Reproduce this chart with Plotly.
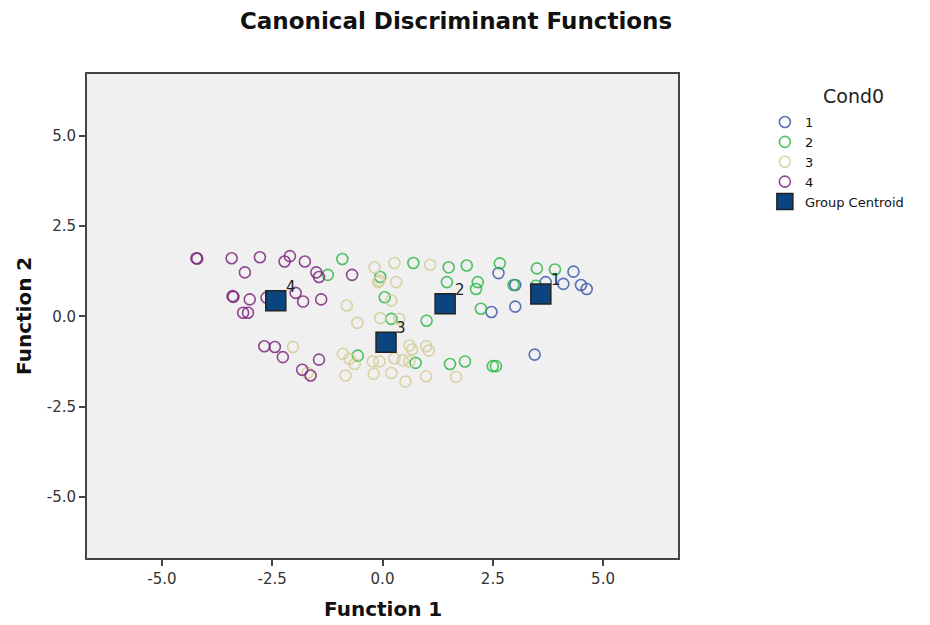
import plotly.graph_objects as go

# ---- data ----
g1_x = [2.63, 3.01, 3.01, 2.47, 3.70, 4.10, 4.33, 4.50, 4.63, 3.45]
g1_y = [1.20, 0.87, 0.27, 0.12, 0.95, 0.90, 1.24, 0.87, 0.76, -1.06]

g2_x = [-0.91, -1.24, -0.05, 0.70, 1.50, 1.91, 2.66, 1.46, 2.16, 2.12, 0.05, 2.23,
        1.00, 0.20, -0.56, 0.75, 1.53, 1.87, 2.50, 2.57, 2.97, 3.50, 3.91, 3.48]
g2_y = [1.59, 1.15, 1.09, 1.48, 1.36, 1.41, 1.47, 0.95, 0.95, 0.76, 0.53, 0.21,
        -0.12, -0.07, -1.09, -1.29, -1.32, -1.25, -1.38, -1.38, 0.87, 1.33, 1.30, 0.85]

g3_x = [-2.03, -0.18, 0.27, 1.08, -0.07, -0.10, 0.31, 0.20, -0.81, -0.57, -0.05, 0.38,
        -0.90, -0.75, -0.63, -0.22, -0.07, 0.27, 0.46, 0.61, 0.61, 0.67, 0.99, 1.05,
        -0.84, -0.20, 0.20, 0.52, 0.99, 1.67, -1.70]
g3_y = [-0.85, 1.36, 1.48, 1.43, 0.99, 0.95, 0.95, 0.44, 0.30, -0.18, -0.05, -0.07,
        -1.04, -1.18, -1.32, -1.25, -1.25, -1.16, -1.22, -1.25, -0.81, -0.92, -0.83, -0.95,
        -1.64, -1.59, -1.57, -1.81, -1.66, -1.68, -1.57]

g4_x = [-4.22, -4.20, -3.42, -2.78, -2.22, -2.10, -1.76, -3.12, -1.50, -1.44, -0.69,
        -3.40, -3.38, -3.01, -2.63, -1.97, -1.80, -1.39, -3.16, -3.05, -2.68, -2.44,
        -2.26, -1.44, -1.82, -1.63]
g4_y = [1.61, 1.60, 1.61, 1.64, 1.52, 1.67, 1.52, 1.22, 1.22, 1.09, 1.15,
        0.56, 0.54, 0.47, 0.52, 0.65, 0.41, 0.47, 0.10, 0.10, -0.83, -0.85,
        -1.13, -1.20, -1.48, -1.64]

centroid_labels = ["1", "2", "3", "4"]
centroid_x = [3.59, 1.42, 0.08, -2.42]
centroid_y = [0.62, 0.35, -0.72, 0.43]

group_names = ["1", "2", "3", "4"]
group_colors = ["#3E58AC", "#2EB848", "#D3CE97", "#7C287D"]
tick_vals = [-5.0, -2.5, 0.0, 2.5, 5.0]
tick_text = ["-5.0", "-2.5", "0.0", "2.5", "5.0"]

FONT = "DejaVu Sans, Verdana, sans-serif"

fig = go.Figure()
for name, xs, ys, col in zip(group_names, [g1_x, g2_x, g3_x, g4_x],
                             [g1_y, g2_y, g3_y, g4_y], group_colors):
    fig.add_trace(go.Scatter(
        x=xs, y=ys, mode="markers", name=name,
        marker=dict(symbol="circle-open", size=11, color=col,
                    line=dict(width=1.6, color=col), opacity=0.85),
    ))

fig.add_trace(go.Scatter(
    x=centroid_x, y=centroid_y, mode="markers", name="Group Centroid",
    marker=dict(symbol="square", size=20, color="#0B4580",
                line=dict(width=1.5, color="#222222")),
))

for lab, cx, cy in zip(centroid_labels, centroid_x, centroid_y):
    fig.add_annotation(x=cx, y=cy, text=lab, showarrow=False,
                       xshift=15, yshift=14,
                       font=dict(family=FONT, size=15, color="#222222"))

axis_common = dict(
    showgrid=False, zeroline=False, showline=True, mirror=True,
    linecolor="#444444", linewidth=2, ticks="outside", ticklen=6,
    tickcolor="#444444", tickwidth=1.5, tickvals=tick_vals, ticktext=tick_text,
    tickfont=dict(family=FONT, size=15, color="#333333"), automargin=False,
)

# page has an 8px body margin, so the figure is drawn 8px smaller and offset
fig.update_layout(
    width=922, height=617,
    margin=dict(l=79, r=252, t=66, b=67),
    paper_bgcolor="white", plot_bgcolor="#F0F0F0",
    title=dict(text="<b>Canonical Discriminant Functions</b>",
               font=dict(family=FONT, size=23, color="#111111"),
               x=0.486, xref="container", xanchor="center",
               y=1 - 13 / 617, yref="container", yanchor="middle"),
    xaxis=dict(range=[-6.7, 6.7], **axis_common),
    yaxis=dict(range=[-6.7, 6.72], **axis_common),
    legend=dict(
        x=1.147, y=0.9318, xanchor="left", yanchor="top",
        font=dict(family=FONT, size=13, color="#111111"),
        bgcolor="rgba(0,0,0,0)", tracegroupgap=0, itemwidth=30,
    ),
    showlegend=True,
)

fig.add_annotation(text="Cond0", xref="paper", yref="paper",
                   x=1.2978, y=0.9545, xanchor="center", yanchor="middle",
                   showarrow=False, font=dict(family=FONT, size=19, color="#222222"))
fig.add_annotation(text="<b>Function 1</b>", xref="paper", yref="paper",
                   x=0.5, y=-0.105, xanchor="center", yanchor="middle",
                   showarrow=False, font=dict(family=FONT, size=20, color="#111111"))
fig.add_annotation(text="<b>Function 2</b>", xref="paper", yref="paper",
                   x=-0.1066, y=0.5, xanchor="center", yanchor="middle",
                   textangle=-90, showarrow=False,
                   font=dict(family=FONT, size=20, color="#111111"))

fig.write_html("out.html")
